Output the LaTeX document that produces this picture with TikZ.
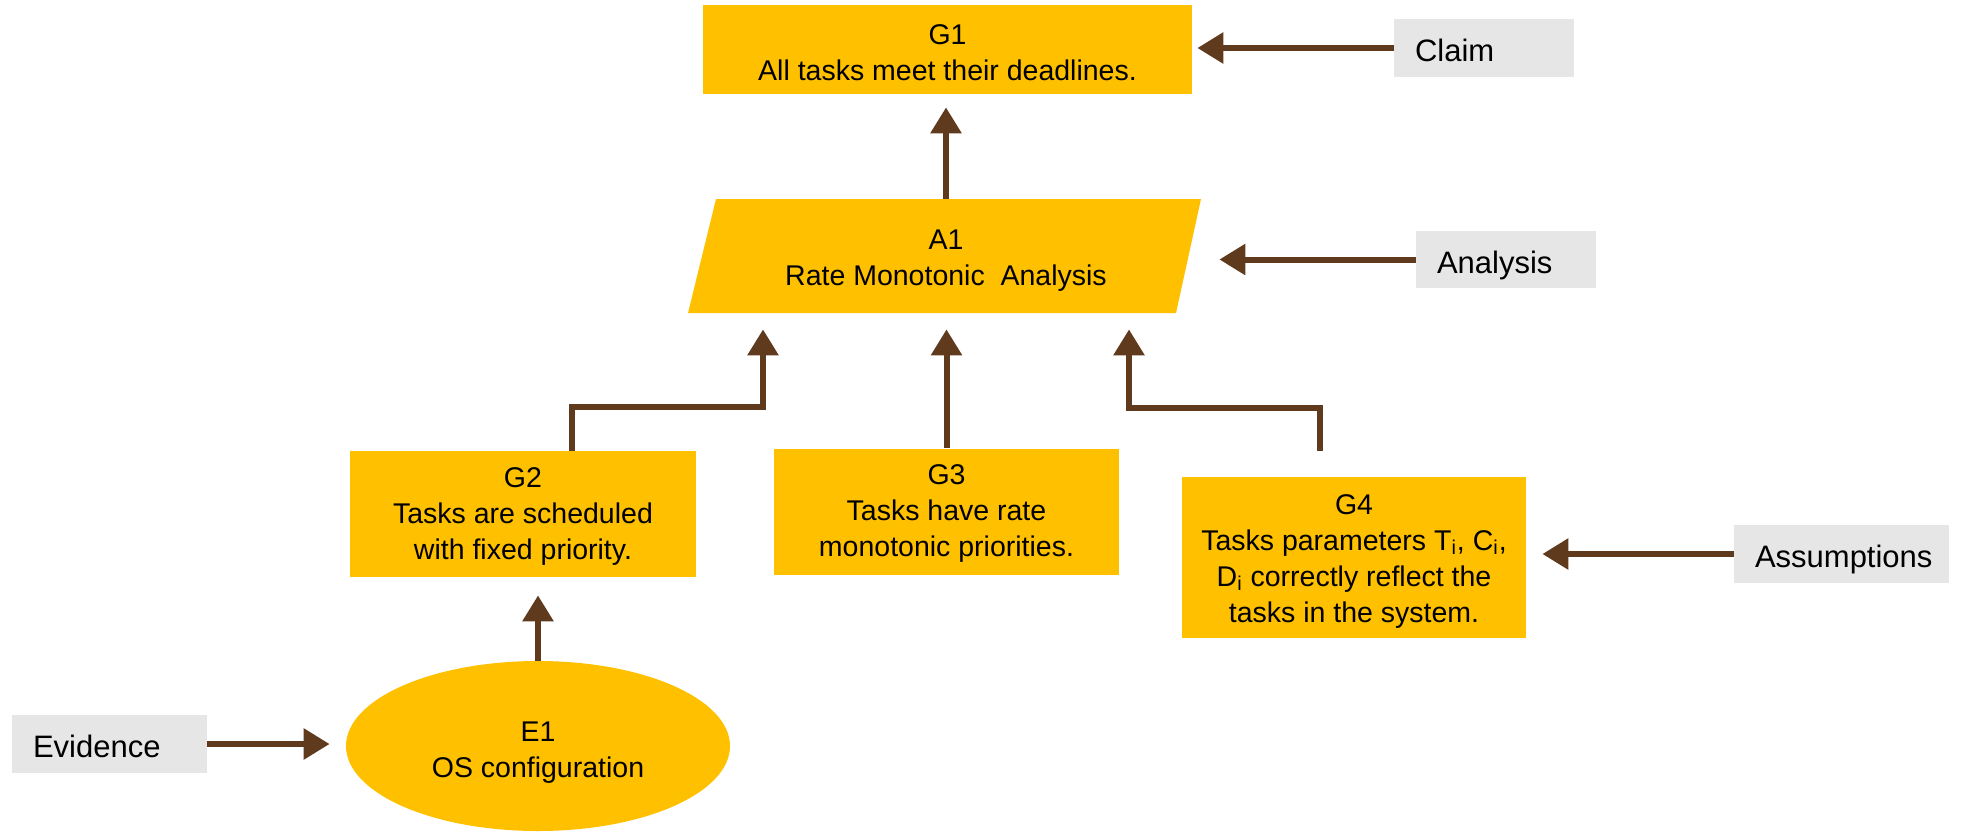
\documentclass[tikz,border=0pt]{standalone}
\usepackage{fontspec}
\setmainfont{Liberation Sans}
\usetikzlibrary{arrows.meta,shapes.geometric}
\definecolor{gold}{HTML}{FFC000}
\definecolor{tagbg}{HTML}{E6E6E6}
\definecolor{linkbrown}{HTML}{603A1C}
\newcommand\gsnfont{\fontsize{14.25pt}{18pt}\selectfont}
\newcommand\tagfont{\fontsize{15.5pt}{18pt}\selectfont}

\begin{document}
\begin{tikzpicture}[x=0.5pt,y=-0.5pt,
  % text depth 0: the last baseline sits (text height)/2 below the centre
  goal/.style={rectangle, fill=gold, inner sep=0pt, align=center, font=\gsnfont,
    text depth=0pt, text height=#1},
  goal/.default=30pt,
  tag/.style={rectangle, fill=tagbg, inner ysep=0pt, inner xsep=10.5pt, align=left, font=\tagfont,
    text height=13.5pt, text depth=0pt},
  link/.style={draw=linkbrown, line width=3pt, -{Triangle[width=15pt,length=13pt]}},
]
\useasboundingbox (0,0) rectangle (1981,832);

% goals, strategy and evidence
\node[goal=30.5pt, minimum width=244.5pt, minimum height=44.5pt] (G1) at (947.5,49.5)
  {G1\\All tasks meet their deadlines.};
\fill[gold] (716,199) -- (1201,199) -- (1176,313) -- (688,313) -- cycle;
\node[font=\gsnfont, align=center, inner sep=0pt, text depth=0pt, text height=29pt,
  minimum width=245pt, minimum height=57pt] (A1) at (946,256)
  {A1\\Rate Monotonic\ \ Analysis};
\node[goal=45pt, minimum width=173pt, minimum height=63pt] (G2) at (523,514)
  {G2\\Tasks are scheduled\\with fixed priority.};
\node[goal=45pt, minimum width=172.5pt, minimum height=63pt] (G3) at (946.5,511.5)
  {G3\\Tasks have rate\\monotonic priorities.};
\node[goal=64.5pt, minimum width=172pt, minimum height=80.5pt] (G4) at (1354,557.5)
  {G4\\Tasks parameters T\textsubscript{i}, C\textsubscript{i},\\D\textsubscript{i} correctly reflect the\\tasks in the system.};
\node[goal=31pt, ellipse, minimum width=192pt, minimum height=85pt] (E1) at (538,746)
  {E1\\OS configuration};

% side labels
\node[tag, text width=69pt, minimum height=29pt] (claim) at (1484,48) {Claim};
\node[tag, text width=69pt, minimum height=28.5pt] (analysis) at (1506,259.5) {Analysis};
\node[tag, text width=86.5pt, minimum height=29pt] (assump) at (1841.5,554) {Assumptions};
\node[tag, text width=76.5pt, minimum height=29pt] (evid) at (109.5,744) {Evidence};

% support links
\draw[link, shorten >=6.5pt] (A1.north) -- (A1.north |- G1.south);
\draw[link] ([xshift=24.5pt]G2.north) -- ++(0,-44) -| ([xshift=-91.5pt,yshift=-8pt]A1.south);
\draw[link, shorten >=8pt] (G3.north) -- (G3.north |- A1.south);
\draw[link] ([xshift=-17pt,yshift=13pt]G4.north) -- ++(0,-43) -| ([xshift=91.5pt,yshift=-8pt]A1.south);
\draw[link, shorten >=9pt] (E1.north) -- (E1.north |- G2.south);

% label pointers
\draw[link, shorten >=2.5pt] (claim.west) -- (claim.west -| G1.east);
\draw[link, shorten >=14pt] (analysis.west) -- (analysis.west -| A1.east);
\draw[link, shorten >=8pt] (assump.west) -- (assump.west -| G4.east);
\draw[link, shorten >=8pt] (evid.east) -- (evid.east -| E1.west);
\end{tikzpicture}
\end{document}
